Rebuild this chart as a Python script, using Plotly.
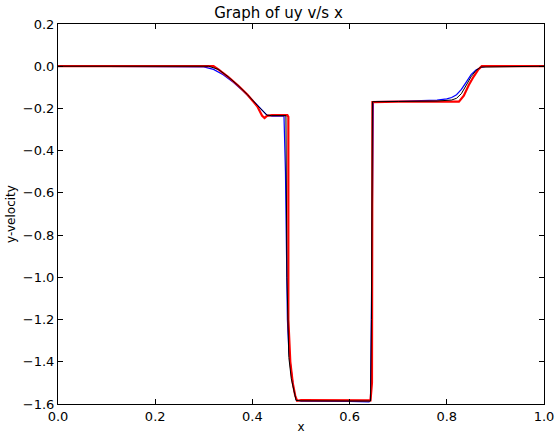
import plotly.graph_objects as go

# Blue series
x_blue = [0.0, 0.28, 0.30, 0.32, 0.34, 0.36, 0.38, 0.40, 0.42, 0.43, 0.44, 0.465, 0.468, 0.470,
          0.472, 0.475, 0.48, 0.485, 0.49, 0.50, 0.60, 0.640, 0.643, 0.645, 0.647, 0.649, 0.70,
          0.75, 0.78, 0.80, 0.81, 0.82, 0.83, 0.84, 0.85, 0.86, 0.87, 0.88, 1.0]
y_blue = [0.0, 0.0, -0.003, -0.015, -0.04, -0.075, -0.115, -0.16, -0.21, -0.232, -0.236, -0.236,
          -0.5, -0.9, -1.2, -1.35, -1.45, -1.53, -1.58, -1.587, -1.588, -1.59, -1.58, -1.0, -0.3,
          -0.168, -0.166, -0.164, -0.161, -0.155, -0.148, -0.135, -0.11, -0.075, -0.04, -0.018,
          -0.006, -0.001, 0.0]

# Red series
x_red = [0.0, 0.32, 0.33, 0.35, 0.37, 0.39, 0.41, 0.42, 0.425, 0.43, 0.44, 0.472, 0.474, 0.474,
         0.478, 0.483, 0.488, 0.492, 0.50, 0.60, 0.643, 0.646, 0.647, 0.70, 0.75, 0.80, 0.815,
         0.82, 0.825, 0.835, 0.845, 0.855, 0.865, 0.872, 1.0]
y_red = [0.0, 0.0, -0.015, -0.05, -0.09, -0.135, -0.19, -0.235, -0.245, -0.235, -0.232, -0.232,
         -0.24, -1.2, -1.40, -1.50, -1.56, -1.585, -1.582, -1.582, -1.583, -1.5, -0.17, -0.168,
         -0.168, -0.168, -0.168, -0.17, -0.168, -0.14, -0.09, -0.05, -0.015, 0.0, 0.0]

# Black series
x_black = [0.0, 0.31, 0.33, 0.35, 0.37, 0.39, 0.41, 0.43, 0.44, 0.469, 0.471, 0.475, 0.48,
           0.486, 0.49, 0.50, 0.60, 0.643, 0.645, 0.647, 0.70, 0.78, 0.81, 0.82, 0.83, 0.84,
           0.85, 0.86, 0.87, 1.0]
y_black = [0.0, 0.0, -0.015, -0.05, -0.09, -0.135, -0.185, -0.232, -0.234, -0.234, -1.0, -1.38,
           -1.48, -1.55, -1.583, -1.585, -1.585, -1.586, -1.2, -0.168, -0.167, -0.165, -0.16,
           -0.152, -0.13, -0.09, -0.05, -0.02, -0.004, 0.0]

x_ticks = [0.0, 0.2, 0.4, 0.6, 0.8, 1.0]
y_ticks = [0.2, 0.0, -0.2, -0.4, -0.6, -0.8, -1.0, -1.2, -1.4, -1.6]

def fmt(v):
    s = f"{v:.1f}"
    return s.replace("-", "\u2212")

fig = go.Figure()
fig.add_trace(go.Scatter(x=x_blue, y=y_blue, mode="lines",
                         line=dict(color="#0000ff", width=1.2)))
fig.add_trace(go.Scatter(x=x_red, y=y_red, mode="lines",
                         line=dict(color="#ff0000", width=2.2)))
fig.add_trace(go.Scatter(x=x_black, y=y_black, mode="lines",
                         line=dict(color="#000000", width=1)))

axis_common = dict(showgrid=False, zeroline=False, showline=True, linecolor="#000000",
                   linewidth=1, mirror="ticks", ticks="inside", ticklen=5, tickwidth=1,
                   automargin=False,
                   tickfont=dict(family="DejaVu Sans", size=13, color="#000000"),
                   tickcolor="#000000")

fig.update_layout(
    width=557, height=436,
    paper_bgcolor="white", plot_bgcolor="white",
    margin=dict(l=58, r=13, t=24, b=32),
    showlegend=False,
    title=dict(text="Graph of uy v/s x", x=0.5, xanchor="center", y=0.982, yanchor="top",
               font=dict(family="DejaVu Sans", size=15, color="#000000")),
    xaxis=dict(range=[0, 1], tickvals=x_ticks, ticktext=[fmt(v) for v in x_ticks],
               title=dict(text="x", standoff=0, font=dict(family="DejaVu Sans", size=12, color="#000000")),
               **axis_common),
    yaxis=dict(range=[-1.6, 0.2], tickvals=y_ticks, ticktext=[fmt(v) for v in y_ticks],
               title=dict(text="y-velocity", standoff=4, font=dict(family="DejaVu Sans", size=12, color="#000000")),
               **axis_common),
)

fig.write_html("out.html", config={"displayModeBar": False},
               post_script="document.body.style.margin='0';document.body.style.overflow='hidden';")
